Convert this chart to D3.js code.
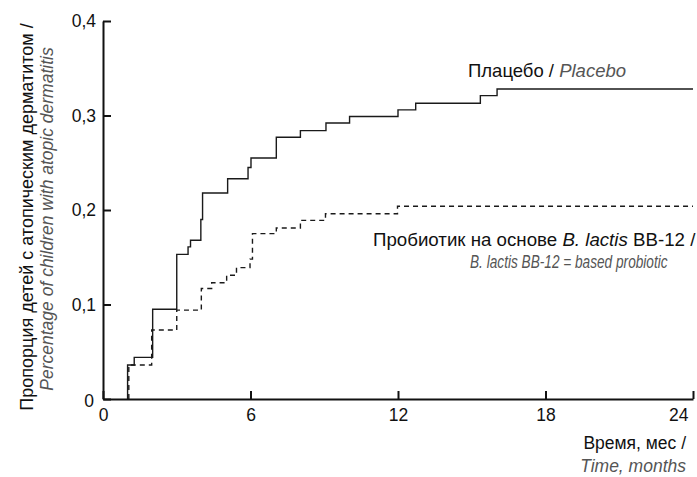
<!DOCTYPE html>
<html>
<head>
<meta charset="utf-8">
<script src="https://cdn.jsdelivr.net/npm/d3@7"></script>
<style>
body { margin: 0; background: #fff; }
text { font-family: "Liberation Sans", Arial, sans-serif; }
</style>
</head>
<body>
<script>
// months since start / cumulative share of children with atopic dermatitis
var placeboMonths = [1.0, 1.0, 1.27, 2.02, 3.0, 3.46, 3.56, 3.98, 4.05, 5.07, 5.9, 6.02, 7.05, 8.03, 9.07, 10.03, 12.0, 12.72, 15.35, 16.03, 24];
var placeboRate = [0, 0.036, 0.044, 0.095, 0.153, 0.161, 0.168, 0.19, 0.218, 0.233, 0.245, 0.255, 0.277, 0.284, 0.292, 0.299, 0.306, 0.313, 0.321, 0.328, 0.328];

var probioticMonths = [1.05, 1.05, 1.98, 3.0, 4.0, 4.42, 5.03, 5.43, 5.98, 6.08, 7.05, 8.03, 9.05, 11.98, 24];
var probioticRate = [0, 0.036, 0.073, 0.094, 0.117, 0.123, 0.131, 0.139, 0.148, 0.175, 0.181, 0.189, 0.196, 0.204, 0.204];

var xTicks = [0, 6, 12, 18, 24];
var yTicks = [0, 0.1, 0.2, 0.3, 0.4];

var width = 697;
var height = 477;
var grey = "#555";

var svg = d3.select("body")
    .append("svg")
    .attr("width", width)
    .attr("height", height);

var x = d3.scaleLinear().domain([0, 24]).range([103, 693]);
var y = d3.scaleLinear().domain([0, 0.4]).range([399, 21]);

function zipped(xs, ys) {
    return xs.map(function(m, i) { return [m, ys[i]]; });
}

var line = d3.line()
    .x(function(d) { return x(d[0]); })
    .y(function(d) { return y(d[1]); })
    .curve(d3.curveStepAfter);

svg.append("path")
    .datum(zipped(placeboMonths, placeboRate))
    .attr("d", line)
    .attr("fill", "none")
    .attr("stroke", "#1a1a1a")
    .attr("stroke-width", 1.4);

svg.append("path")
    .datum(zipped(probioticMonths, probioticRate))
    .attr("d", line)
    .attr("fill", "none")
    .attr("stroke", "#1a1a1a")
    .attr("stroke-width", 1.4)
    .attr("stroke-dasharray", "5,4");

// axes, ticks pointing inward
var xAxis = svg.append("g")
    .attr("transform", "translate(0," + y(0) + ")")
    .call(d3.axisBottom(x).tickValues(xTicks).tickSizeInner(-8).tickSizeOuter(0).tickPadding(6));

var yAxis = svg.append("g")
    .attr("transform", "translate(" + x(0) + ",0)")
    .call(d3.axisLeft(y).tickValues(yTicks).tickSizeInner(-8).tickSizeOuter(0).tickPadding(7)
        .tickFormat(function(d) { return d === 0 ? "0" : d3.format(".1f")(d).replace(".", ","); }));

[xAxis, yAxis].forEach(function(g) {
    g.selectAll("path, line").attr("stroke", "#111").attr("stroke-width", 2);
    g.selectAll("text").attr("font-size", 17.5).attr("fill", "#111")
        .style("font-family", "'Liberation Sans', Arial, sans-serif");
});
xAxis.selectAll("text").attr("dy", "0.9em");
xAxis.selectAll("text").filter(function(d) { return d === 24; })
    .attr("text-anchor", "end").attr("dx", -5);
yAxis.selectAll("text").filter(function(d) { return d === 0; })
    .attr("dx", -2).attr("dy", "0.45em");

// labels
var t1 = svg.append("text").attr("x", 468).attr("y", 77).attr("font-size", 18.5).attr("fill", "#111");
t1.append("tspan").text("Плацебо / ");
t1.append("tspan").attr("fill", grey).attr("font-style", "italic").text("Placebo");

var t2 = svg.append("text").attr("x", 373).attr("y", 246).attr("font-size", 18.7).attr("fill", "#111");
t2.append("tspan").text("Пробиотик на основе ");
t2.append("tspan").attr("font-style", "italic").text("B. lactis");
t2.append("tspan").text(" BB-12 /");

// the reference sets this line in a condensed face
svg.append("text")
    .attr("transform", "translate(470,268) scale(0.78,1)")
    .attr("font-size", 17.5)
    .attr("fill", grey).attr("font-style", "italic")
    .text("B. lactis BB-12 = based probiotic");

svg.append("text").attr("x", 686).attr("y", 449).attr("font-size", 17.5)
    .attr("text-anchor", "end").attr("fill", "#111").text("Время, мес /");
svg.append("text").attr("x", 686).attr("y", 472).attr("font-size", 17.5)
    .attr("text-anchor", "end").attr("fill", grey).attr("font-style", "italic").text("Time, months");

var yt = svg.append("g").attr("transform", "translate(0,217) rotate(-90)");
yt.append("text").attr("x", 0).attr("y", 33).attr("font-size", 18)
    .attr("text-anchor", "middle").attr("fill", "#111")
    .text("Пропорция детей с атопическим дерматитом /");
yt.append("text").attr("x", -2).attr("y", 53).attr("font-size", 17.5)
    .attr("text-anchor", "middle").attr("fill", grey).attr("font-style", "italic")
    .text("Percentage of children with atopic dermatitis");
</script>
</body>
</html>
